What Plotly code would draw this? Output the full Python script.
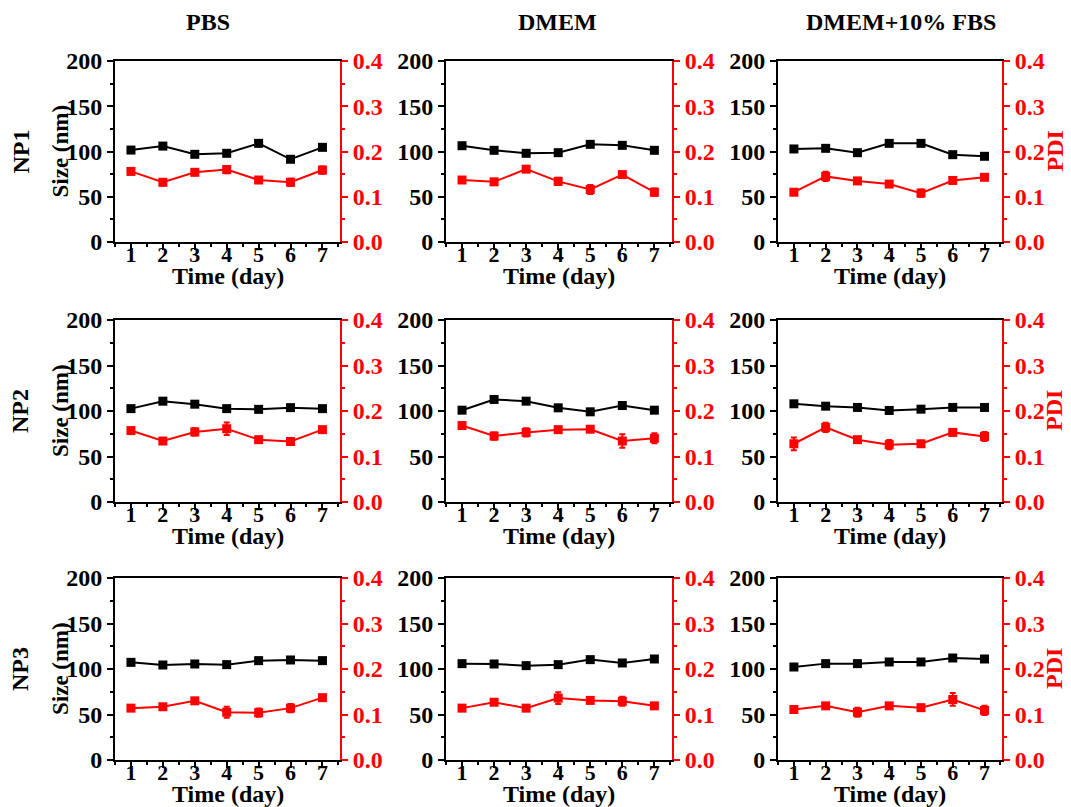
import plotly.graph_objects as go

days = [1, 2, 3, 4, 5, 6, 7]
media = ["PBS", "DMEM", "DMEM+10% FBS"]
samples = ["NP1", "NP2", "NP3"]

# Size (nm) per sample (rows) and medium (cols)
size_np1_pbs = [101.6, 106.0, 96.9, 98.0, 109.0, 91.4, 104.6]
size_np1_dmem = [106.4, 101.3, 98.0, 98.7, 107.9, 106.8, 101.3]
size_np1_fbs = [102.8, 103.5, 98.7, 109.0, 109.0, 96.5, 94.7]
size_np2_pbs = [102.6, 110.8, 107.5, 102.6, 101.8, 103.7, 102.6]
size_np2_dmem = [100.9, 112.7, 110.8, 103.5, 99.1, 106.0, 100.9]
size_np2_fbs = [107.9, 105.3, 103.9, 100.6, 102.0, 103.9, 103.9]
size_np3_pbs = [107.3, 104.4, 105.5, 104.8, 109.2, 109.9, 109.2]
size_np3_dmem = [105.9, 105.5, 103.7, 104.8, 110.3, 106.6, 111.0]
size_np3_fbs = [102.2, 105.9, 105.9, 107.7, 107.7, 112.1, 111.0]

# PDI and its error
pdi_np1_pbs = [0.156, 0.132, 0.154, 0.160, 0.137, 0.132, 0.159]
err_np1_pbs = [0.003, 0.007, 0.003, 0.008, 0.003, 0.008, 0.008]
pdi_np1_dmem = [0.137, 0.133, 0.161, 0.134, 0.116, 0.149, 0.110]
err_np1_dmem = [0.003, 0.003, 0.003, 0.008, 0.010, 0.003, 0.008]
pdi_np1_fbs = [0.110, 0.145, 0.135, 0.128, 0.108, 0.136, 0.143]
err_np1_fbs = [0.003, 0.010, 0.003, 0.006, 0.008, 0.003, 0.003]
pdi_np2_pbs = [0.157, 0.134, 0.154, 0.161, 0.137, 0.133, 0.159]
err_np2_pbs = [0.003, 0.003, 0.008, 0.014, 0.003, 0.003, 0.003]
pdi_np2_dmem = [0.168, 0.145, 0.153, 0.159, 0.160, 0.134, 0.140]
err_np2_dmem = [0.003, 0.008, 0.009, 0.003, 0.003, 0.015, 0.011]
pdi_np2_fbs = [0.128, 0.164, 0.137, 0.126, 0.128, 0.153, 0.144]
err_np2_fbs = [0.014, 0.010, 0.003, 0.010, 0.003, 0.003, 0.010]
pdi_np3_pbs = [0.114, 0.117, 0.130, 0.105, 0.104, 0.114, 0.137]
err_np3_pbs = [0.003, 0.003, 0.003, 0.012, 0.009, 0.009, 0.003]
pdi_np3_dmem = [0.114, 0.127, 0.114, 0.136, 0.131, 0.129, 0.119]
err_np3_dmem = [0.003, 0.003, 0.003, 0.013, 0.003, 0.010, 0.003]
pdi_np3_fbs = [0.111, 0.119, 0.105, 0.119, 0.115, 0.133, 0.109]
err_np3_fbs = [0.003, 0.003, 0.010, 0.003, 0.003, 0.014, 0.010]

sizes = [[size_np1_pbs, size_np1_dmem, size_np1_fbs],
         [size_np2_pbs, size_np2_dmem, size_np2_fbs],
         [size_np3_pbs, size_np3_dmem, size_np3_fbs]]
pdis = [[pdi_np1_pbs, pdi_np1_dmem, pdi_np1_fbs],
        [pdi_np2_pbs, pdi_np2_dmem, pdi_np2_fbs],
        [pdi_np3_pbs, pdi_np3_dmem, pdi_np3_fbs]]
errs = [[err_np1_pbs, err_np1_dmem, err_np1_fbs],
        [err_np2_pbs, err_np2_dmem, err_np2_fbs],
        [err_np3_pbs, err_np3_dmem, err_np3_fbs]]

OFF = 8  # default page body margin
W, H = 1071 - OFF, 807 - OFF
FONT = "Liberation Serif, Times New Roman, serif"
TICK = 24
XTICK = 22
col_px = [(115, 340), (446, 672), (778, 1002)]
row_px = [(61, 242), (320, 502), (578, 760)]


def px(xpix):
    return (xpix - OFF) / W


def py(ypix):
    return 1 - (ypix - OFF) / H


fig = go.Figure()
layout = dict(width=W, height=H, margin=dict(l=0, r=0, t=0, b=0, autoexpand=False),
              paper_bgcolor="white", plot_bgcolor="white", showlegend=False,
              font=dict(family=FONT, size=TICK, color="black", weight="bold"))
annotations = []

for r in range(3):
    for c in range(3):
        k = r * 3 + c
        xi = k + 1
        yl = 2 * k + 1
        yr = 2 * k + 2
        xn = "x" if xi == 1 else f"x{xi}"
        yln = "y" if yl == 1 else f"y{yl}"
        yrn = f"y{yr}"
        xd = [px(col_px[c][0]), px(col_px[c][1])]
        yd = [py(row_px[r][1]), py(row_px[r][0])]
        layout["xaxis" + ("" if xi == 1 else str(xi))] = dict(
            domain=xd, anchor=yln, range=[0.5, 7.55], tickvals=days, automargin=False,
            showline=True, linecolor="black", linewidth=2, mirror=True,
            ticks="outside", ticklen=6, tickwidth=2, tickcolor="black",
            minor=dict(ticks="outside", ticklen=3, tickwidth=1.5, dtick=0.5, tick0=0.5, tickcolor="black"),
            showgrid=False, zeroline=False, ticklabelstandoff=-14,
            tickfont=dict(family=FONT, size=XTICK, color="black", weight="bold"))
        layout["yaxis" + ("" if yl == 1 else str(yl))] = dict(
            domain=yd, anchor=xn, range=[0, 200], tickvals=[0, 50, 100, 150, 200], automargin=False,
            showline=True, linecolor="black", linewidth=2,
            ticks="outside", ticklen=6, tickwidth=2, tickcolor="black",
            minor=dict(ticks="outside", ticklen=3, tickwidth=1.5, dtick=25, tickcolor="black"),
            showgrid=False, zeroline=False,
            tickfont=dict(family=FONT, size=TICK, color="black", weight="bold"))
        layout["yaxis" + str(yr)] = dict(
            domain=yd, anchor=xn, overlaying=yln, side="right", range=[0, 0.4], automargin=False,
            tickvals=[0, 0.1, 0.2, 0.3, 0.4], ticktext=["0.0", "0.1", "0.2", "0.3", "0.4"],
            showline=True, linecolor="red", linewidth=2,
            ticks="outside", ticklen=6, tickwidth=2, tickcolor="red",
            minor=dict(ticks="outside", ticklen=3, tickwidth=1.5, dtick=0.05, tickcolor="red"),
            showgrid=False, zeroline=False,
            tickfont=dict(family=FONT, size=TICK, color="red", weight="bold"))

        fig.add_trace(go.Scatter(x=days, y=sizes[r][c], xaxis=xn, yaxis=yln,
                                 mode="lines+markers",
                                 line=dict(color="black", width=2),
                                 marker=dict(symbol="square", size=9, color="black")))
        fig.add_trace(go.Scatter(x=days, y=pdis[r][c], xaxis=xn, yaxis=yrn,
                                 mode="lines+markers",
                                 line=dict(color="red", width=2),
                                 marker=dict(symbol="square", size=9, color="red"),
                                 error_y=dict(type="data", array=errs[r][c], color="red",
                                              thickness=2, width=3)))

        xc = px((col_px[c][0] + col_px[c][1]) / 2)
        annotations.append(dict(text="Time (day)", x=xc, y=py(row_px[r][1] + 34),
                                xref="paper", yref="paper", showarrow=False,
                                xanchor="center", yanchor="middle",
                                font=dict(family=FONT, size=24, color="black", weight="bold")))

    ymid = py((row_px[r][0] + row_px[r][1]) / 2)
    annotations.append(dict(text="Size (nm)", x=px(60), y=ymid, xref="paper", yref="paper",
                            showarrow=False, textangle=-90, xanchor="center", yanchor="middle",
                            font=dict(family=FONT, size=23, color="black", weight="bold")))
    annotations.append(dict(text=samples[r], x=px(20), y=ymid, xref="paper", yref="paper",
                            showarrow=False, textangle=-90, xanchor="center", yanchor="middle",
                            font=dict(family=FONT, size=24, color="black", weight="bold")))
    annotations.append(dict(text="PDI", x=px(1054), y=ymid, xref="paper", yref="paper",
                            showarrow=False, textangle=-90, xanchor="center", yanchor="middle",
                            font=dict(family=FONT, size=24, color="red", weight="bold")))

title_x = [208, 557, 901]
for c in range(3):
    annotations.append(dict(text=media[c], x=px(title_x[c]), y=py(22), xref="paper", yref="paper",
                            showarrow=False, xanchor="center", yanchor="middle",
                            font=dict(family=FONT, size=24, color="black", weight="bold")))

layout["annotations"] = annotations
fig.update_layout(**layout)
fig.write_html("out.html")
